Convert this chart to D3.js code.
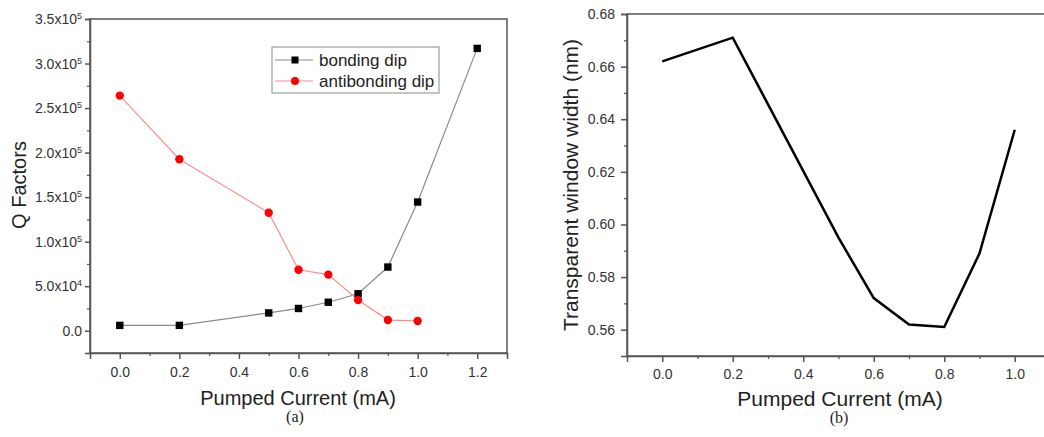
<!DOCTYPE html>
<html><head><meta charset="utf-8">
<script src="https://cdn.jsdelivr.net/npm/d3@7"></script>
<style>
body{margin:0;background:#fff}
svg{display:block}
text{font-family:"Liberation Sans",Arial,sans-serif}
</style>
</head><body>
<svg id="chart" width="1044" height="437"></svg>
<script>
// Panel (a): Q factors of the two dips vs pumped current
const currentBonding = [0.0, 0.2, 0.5, 0.6, 0.7, 0.8, 0.9, 1.0, 1.2];
const bondingQ = [6000, 6000, 20000, 25000, 32000, 41500, 71500, 144500, 317000];
const currentAntibonding = [0.0, 0.2, 0.5, 0.6, 0.7, 0.8, 0.9, 1.0];
const antibondingQ = [264000, 192500, 132500, 68500, 63000, 34500, 12000, 11000];
const qTicks = [0, 50000, 100000, 150000, 200000, 250000, 300000, 350000];
const qMinorTicks = [-25000, 25000, 75000, 125000, 175000, 225000, 275000, 325000];
const xTicksA = [0.0, 0.2, 0.4, 0.6, 0.8, 1.0, 1.2];
const xMinorTicksA = [-0.1, 0.1, 0.3, 0.5, 0.7, 0.9, 1.1, 1.3];
const seriesNames = ["bonding dip", "antibonding dip"];

// Panel (b): transparent window width vs pumped current
const currentWindow = [0.0, 0.2, 0.5, 0.6, 0.7, 0.8, 0.9, 1.0];
const windowWidth = [0.662, 0.671, 0.595, 0.572, 0.562, 0.561, 0.589, 0.636];
const widthTicks = [0.56, 0.58, 0.60, 0.62, 0.64, 0.66, 0.68];
const widthMinorTicks = [0.55, 0.57, 0.59, 0.61, 0.63, 0.65, 0.67];
const xTicksB = [0.0, 0.2, 0.4, 0.6, 0.8, 1.0];
const xMinorTicksB = [-0.1, 0.1, 0.3, 0.5, 0.7, 0.9, 1.1];

const svg = d3.select("#chart");
const frameColor = "#555";
const tickTextColor = "#333";

function styleAxis(g) {
  g.select(".domain").attr("stroke", frameColor).attr("stroke-width", 1.5);
  g.selectAll(".tick line").attr("stroke", frameColor).attr("stroke-width", 1.5);
  g.selectAll(".tick text").attr("fill", tickTextColor).style("font-size", "14px")
    .style("font-family", '"Liberation Sans",Arial,sans-serif');
}

function minorAxis(g, axisFn) {
  g.call(axisFn);
  g.select(".domain").remove();
  g.selectAll(".tick text").remove();
  g.selectAll(".tick line").attr("stroke", frameColor).attr("stroke-width", 1.2);
}

// Scientific label such as 3.5x10^5
function sciLabel(textSel) {
  textSel.each(function(d) {
    const t = d3.select(this);
    t.text(null);
    if (d === 0) { t.text("0.0"); return; }
    const exp = Math.floor(Math.log10(d));
    const mant = (d / Math.pow(10, exp)).toFixed(1);
    t.append("tspan").text(mant + "x10");
    t.append("tspan").attr("dy", "-0.55em").style("font-size", "9px").text(exp);
  });
}

// ---------- Panel (a) ----------
{
  const x = d3.scaleLinear().domain([-0.1, 1.3]).range([90, 507]);
  const y = d3.scaleLinear().domain([-25000, 350000]).range([353, 19]);

  // frame
  svg.append("rect").attr("x", 90).attr("y", 19).attr("width", 417).attr("height", 334)
    .attr("fill", "none").attr("stroke", frameColor).attr("stroke-width", 1.5);

  svg.append("g").attr("transform", "translate(0,353)")
    .call(g => minorAxis(g, d3.axisBottom(x).tickValues(xMinorTicksA).tickSize(3)));
  svg.append("g").attr("transform", "translate(90,0)")
    .call(g => minorAxis(g, d3.axisLeft(y).tickValues(qMinorTicks).tickSize(3)));

  const xa = svg.append("g").attr("transform", "translate(0,353)")
    .call(d3.axisBottom(x).tickValues(xTicksA).tickFormat(d3.format(".1f")).tickSize(6).tickPadding(8));
  styleAxis(xa);
  const ya = svg.append("g").attr("transform", "translate(90,0)")
    .call(d3.axisLeft(y).tickValues(qTicks).tickSize(5).tickPadding(3));
  styleAxis(ya);
  ya.selectAll(".tick text").call(sciLabel);

  const bond = currentBonding.map((c, i) => [c, bondingQ[i]]);
  const anti = currentAntibonding.map((c, i) => [c, antibondingQ[i]]);
  const line = d3.line().x(d => x(d[0])).y(d => y(d[1]));

  svg.append("path").datum(bond).attr("d", line).attr("fill", "none")
    .attr("stroke", "#8a8a8a").attr("stroke-width", 1.2);
  svg.append("path").datum(anti).attr("d", line).attr("fill", "none")
    .attr("stroke", "#ff8c8c").attr("stroke-width", 1.2);

  svg.append("g").selectAll("rect").data(bond).join("rect")
    .attr("x", d => x(d[0]) - 3.7).attr("y", d => y(d[1]) - 3.7)
    .attr("width", 7.4).attr("height", 7.4).attr("fill", "#000");
  svg.append("g").selectAll("circle").data(anti).join("circle")
    .attr("cx", d => x(d[0])).attr("cy", d => y(d[1])).attr("r", 4.2).attr("fill", "#f00");

  // legend
  const lg = svg.append("g");
  lg.append("rect").attr("x", 272).attr("y", 47).attr("width", 167).attr("height", 46)
    .attr("fill", "#fff").attr("stroke", "#8a8a8a").attr("stroke-width", 1);
  const rows = [
    {name: seriesNames[0], color: "#8a8a8a", marker: "square", y: 60},
    {name: seriesNames[1], color: "#ff8c8c", marker: "circle", y: 81}
  ];
  rows.forEach(r => {
    lg.append("line").attr("x1", 275).attr("x2", 313).attr("y1", r.y).attr("y2", r.y)
      .attr("stroke", r.color).attr("stroke-width", 1.2);
    if (r.marker === "square") {
      lg.append("rect").attr("x", 295 - 3.5).attr("y", r.y - 3.5).attr("width", 7).attr("height", 7).attr("fill", "#000");
    } else {
      lg.append("circle").attr("cx", 295).attr("cy", r.y).attr("r", 4).attr("fill", "#f00");
    }
    lg.append("text").attr("x", 319).attr("y", r.y).attr("dy", "0.35em")
      .style("font-size", "17px").attr("fill", "#222").text(r.name);
  });

  svg.append("text").attr("transform", "translate(26,185) rotate(-90)")
    .attr("text-anchor", "middle").style("font-size", "20px").attr("fill", "#222").text("Q Factors");
  svg.append("text").attr("x", 298).attr("y", 405).attr("text-anchor", "middle")
    .style("font-size", "20px").attr("fill", "#222").text("Pumped Current (mA)");
  svg.append("text").attr("x", 295).attr("y", 422).attr("text-anchor", "middle")
    .style("font-size", "16px").style("font-family", '"Liberation Serif","Times New Roman",serif')
    .attr("fill", "#222").text("(a)");
}

// ---------- Panel (b) ----------
{
  const x = d3.scaleLinear().domain([-0.1, 1.1]).range([627, 1050]);
  const y = d3.scaleLinear().domain([0.55, 0.68]).range([356, 14]);

  svg.append("rect").attr("x", 627).attr("y", 14).attr("width", 423).attr("height", 342)
    .attr("fill", "none").attr("stroke", frameColor).attr("stroke-width", 1.5);

  svg.append("g").attr("transform", "translate(0,356)")
    .call(g => minorAxis(g, d3.axisBottom(x).tickValues(xMinorTicksB).tickSize(3)));
  svg.append("g").attr("transform", "translate(627,0)")
    .call(g => minorAxis(g, d3.axisLeft(y).tickValues(widthMinorTicks).tickSize(3)));

  const xb = svg.append("g").attr("transform", "translate(0,356)")
    .call(d3.axisBottom(x).tickValues(xTicksB).tickFormat(d3.format(".1f")).tickSize(6).tickPadding(7));
  styleAxis(xb);
  const yb = svg.append("g").attr("transform", "translate(627,0)")
    .call(d3.axisLeft(y).tickValues(widthTicks).tickFormat(d3.format(".2f")).tickSize(6).tickPadding(6));
  styleAxis(yb);

  const pts = currentWindow.map((c, i) => [c, windowWidth[i]]);
  svg.append("path").datum(pts)
    .attr("d", d3.line().x(d => x(d[0])).y(d => y(d[1])))
    .attr("fill", "none").attr("stroke", "#000").attr("stroke-width", 2.5);

  svg.append("text").attr("transform", "translate(578,185) rotate(-90)")
    .attr("text-anchor", "middle").style("font-size", "21px").attr("fill", "#222")
    .text("Transparent window width (nm)");
  svg.append("text").attr("x", 840).attr("y", 406).attr("text-anchor", "middle")
    .style("font-size", "21px").attr("fill", "#222").text("Pumped Current (mA)");
  svg.append("text").attr("x", 839).attr("y", 423).attr("text-anchor", "middle")
    .style("font-size", "16px").style("font-family", '"Liberation Serif","Times New Roman",serif')
    .attr("fill", "#222").text("(b)");
}
</script>
</body></html>
